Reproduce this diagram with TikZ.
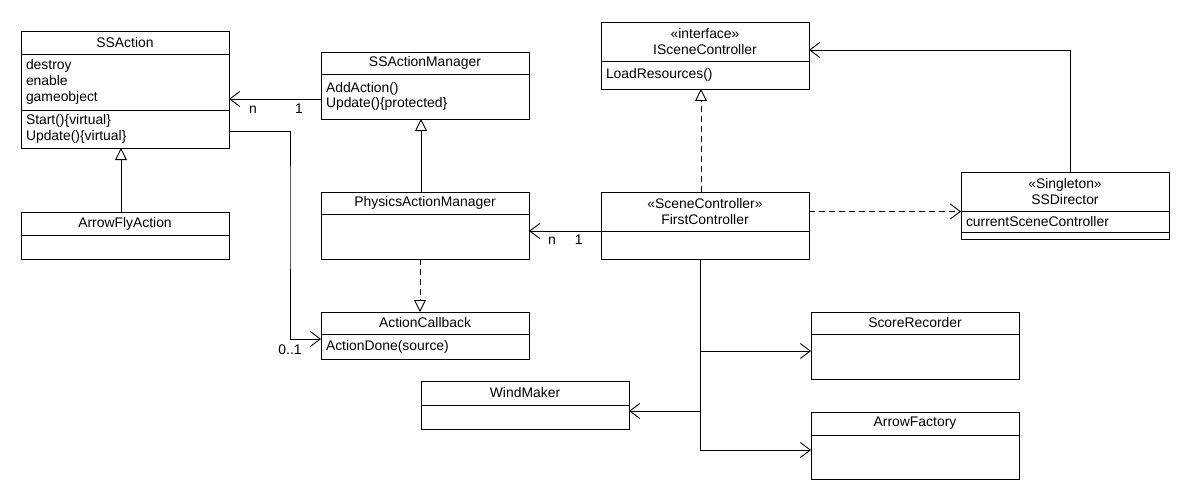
\documentclass[tikz,border=0pt]{standalone}
\usepackage{fontspec}
\setmainfont{Liberation Sans}
\usetikzlibrary{arrows.meta,positioning}
\tikzset{
    classtitle/.style={draw,outer sep=0pt,inner sep=0pt,minimum width=208pt,align=center,anchor=north west},
    classpart/.style={draw,outer sep=0pt,inner ysep=0pt,inner xsep=5pt,text width=198pt,align=left},
    edgelabel/.style={draw=none,inner sep=1pt,text height=9pt,text depth=0pt},
    nav/.style={arrows={-Straight Barb[length=10pt,width=15pt]}},
    inherit/.style={arrows={-Triangle[open,length=12pt,width=12pt,fill=white]}},
    realize/.style={inherit,dash pattern=on 6pt off 4pt},
    depend/.style={nav,dash pattern=on 6pt off 4pt},
    }
\begin{document}
\begin{tikzpicture}[x=1pt,y=-1pt,line width=0.9pt,font=\fontsize{13.9}{15.8}\selectfont]
    \useasboundingbox (0,0) rectangle (1190,500);

        % classes
        \node[classtitle,minimum height=23pt] (ssa) at (21,31) {SSAction};
        \node[classpart,minimum height=56pt,below=0pt of ssa] (ssa-attr) {destroy\\enable\\gameobject};
        \node[classpart,minimum height=38pt,below=0pt of ssa-attr] (ssa-ops) {Start()\{virtual\}\\Update()\{virtual\}};

        \node[classtitle,minimum height=22pt] (ssam) at (321,52) {SSActionManager};
        \node[classpart,minimum height=45pt,below=0pt of ssam] (ssam-ops) {AddAction()\\Update()\{protected\}};

        \node[classtitle,minimum height=23pt] (afa) at (21,212) {ArrowFlyAction};
        \node[classpart,minimum height=24pt,below=0pt of afa] (afa-body) {};

        \node[classtitle,minimum height=22pt] (pam) at (321,192) {PhysicsActionManager};
        \node[classpart,minimum height=45pt,below=0pt of pam] (pam-body) {};

        \node[classtitle,minimum height=22pt] (acb) at (321,312) {ActionCallback};
        \node[classpart,minimum height=25pt,below=0pt of acb] (acb-ops) {ActionDone(source)};

        \node[classtitle,minimum height=39pt] (isc) at (601,22) {«interface»\\ISceneController};
        \node[classpart,minimum height=28pt,below=0pt of isc] (isc-ops) {LoadResources()};

        \node[classtitle,minimum height=39pt] (fc) at (601,192) {«SceneController»\\FirstController};
        \node[classpart,minimum height=28pt,below=0pt of fc] (fc-body) {};

        \node[classtitle,minimum height=39pt] (ssd) at (961,172) {«Singleton»\\SSDirector};
        \node[classpart,minimum height=21pt,below=0pt of ssd] (ssd-attr) {currentSceneController};
        \node[classpart,minimum height=7pt,below=0pt of ssd-attr] (ssd-ops) {};

        \node[classtitle,minimum height=22pt] (sr) at (811,312) {ScoreRecorder};
        \node[classpart,minimum height=45pt,below=0pt of sr] (sr-body) {};

        \node[classtitle,minimum height=24pt] (wm) at (421,381) {WindMaker};
        \node[classpart,minimum height=24pt,below=0pt of wm] (wm-body) {};

        \node[classtitle,minimum height=23pt] (af) at (811,412) {ArrowFactory};
        \node[classpart,minimum height=44pt,below=0pt of af] (af-body) {};

        \coordinate (cbbend) at (290,200);

        % relations
        \draw[nav] ([yshift=-2.5pt]ssam-ops.west) -- node[edgelabel,below=4pt,pos=0.24] {1} node[edgelabel,below=4pt,pos=0.74] {n} ([yshift=-2.5pt]ssam-ops.west -| ssa-attr.east);
        \draw[inherit] ([xshift=-4pt]afa.north) -- ([xshift=-4pt]ssa-ops.south);
        \draw[inherit] ([xshift=-4pt]pam.north) -- ([xshift=-4pt]ssam-ops.south);
        \draw[realize] ([xshift=-5pt]pam-body.south) -- ([xshift=-5pt]acb.north);
        \draw[realize] ([xshift=-4pt]fc.north) -- ([xshift=-4pt]isc-ops.south);
        \draw[nav] (fc.south west) -- node[edgelabel,below=3pt,pos=0.31] {1} node[edgelabel,below=3pt,pos=0.68] {n} (fc.south west -| pam-body.east);
        \draw[depend] (fc.east) -- (fc.east -| ssd.west);
        \draw[nav] ([xshift=5pt]ssd.north) |- ([yshift=-8.5pt]isc.east);
        \draw[nav] ([yshift=-2pt]ssa-ops.east) -| (cbbend) |- node[edgelabel,below=5pt,pos=0.5] {0..1} ([yshift=7.5pt]acb-ops.west);

        \draw[nav] ([xshift=-5pt]fc-body.south) |- ([yshift=5.5pt]sr-body.west);
        \draw[nav] ([xshift=-5pt]fc-body.south) |- ([yshift=6pt]wm-body.east);
        \draw[nav] ([xshift=-5pt]fc-body.south) |- ([yshift=7pt]af-body.west);
\end{tikzpicture}
\end{document}
